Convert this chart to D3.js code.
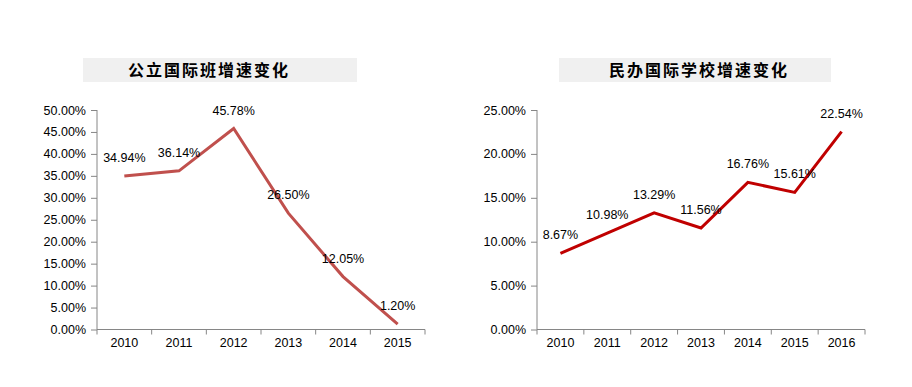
<!DOCTYPE html>
<html>
<head>
<meta charset="utf-8">
<script src="https://cdn.jsdelivr.net/npm/d3@7"></script>
<style>
  body { margin: 0; background: #fff; }
  svg { display: block; }
  .tick text { font-family: "Liberation Sans", Arial, sans-serif; font-size: 12.5px; fill: #000; }
  .lbl { font-family: "Liberation Sans", Arial, sans-serif; font-size: 12.5px; fill: #000; }
  .title { font-family: "Noto Sans CJK SC", sans-serif; font-size: 16px; font-weight: bold; fill: #000; letter-spacing: 2px; }
</style>
</head>
<body>
<div id="chart"></div>
<script>
// left chart: public school international classes
const yearsPublic = ['2010', '2011', '2012', '2013', '2014', '2015'];
const growthPublic = [34.94, 36.14, 45.78, 26.50, 12.05, 1.20];
const ticksPublic = [0, 5, 10, 15, 20, 25, 30, 35, 40, 45, 50];

// right chart: private international schools
const yearsPrivate = ['2010', '2011', '2012', '2013', '2014', '2015', '2016'];
const growthPrivate = [8.67, 10.98, 13.29, 11.56, 16.76, 15.61, 22.54];
const ticksPrivate = [0, 5, 10, 15, 20, 25];

const svg = d3.select('#chart')
  .append('svg')
  .attr('width', 912)
  .attr('height', 387);

/**
 * drawPanel - one titled line chart with percent axis
 */
function drawPanel(opts) {
  const {title, titleBox, titleX, years, values, ticks, yMax, x0, x1, top, bottom, color} = opts;

  svg.append('rect')
    .attr('x', titleBox[0])
    .attr('y', titleBox[1])
    .attr('width', titleBox[2])
    .attr('height', titleBox[3])
    .attr('fill', '#f0f0f0');

  svg.append('text')
    .attr('class', 'title')
    .attr('x', titleX)
    .attr('y', titleBox[1] + titleBox[3] / 2 + 6)
    .attr('text-anchor', 'middle')
    .text(title);

  const xScale = d3.scaleBand().domain(years).range([x0, x1]);
  const yScale = d3.scaleLinear().domain([0, yMax]).range([bottom, top]);

  const yAxis = d3.axisLeft(yScale)
    .tickValues(ticks)
    .tickSize(6)
    .tickPadding(5)
    .tickFormat(d => d.toFixed(2) + '%');

  const gy = svg.append('g')
    .attr('transform', 'translate(' + x0 + ',0)')
    .call(yAxis);

  // x axis ticks sit at the band edges, labels at the band centres
  const xAxis = d3.axisBottom(xScale).tickSize(0).tickPadding(9);
  const gx = svg.append('g')
    .attr('transform', 'translate(0,' + bottom + ')')
    .call(xAxis);
  gx.selectAll('.tick line').remove();
  gx.selectAll('.bound')
    .data(years.concat(['end']))
    .enter()
    .append('line')
    .attr('x1', (d, i) => x0 + i * xScale.step())
    .attr('x2', (d, i) => x0 + i * xScale.step())
    .attr('y1', 0)
    .attr('y2', 5)
    .attr('stroke', '#868686');

  [gx, gy].forEach(g => {
    g.select('.domain').attr('stroke', '#868686');
    g.selectAll('.tick line').attr('stroke', '#868686');
  });
  gx.select('.domain').attr('d', 'M' + x0 + ',0H' + x1);
  gy.select('.domain').attr('d', 'M0,' + top + 'V' + bottom);

  const pts = years.map((y, i) => ({year: y, v: values[i]}));

  const line = d3.line()
    .x(d => xScale(d.year) + xScale.bandwidth() / 2)
    .y(d => yScale(d.v));

  svg.append('path')
    .datum(pts)
    .attr('d', line)
    .attr('fill', 'none')
    .attr('stroke', color)
    .attr('stroke-width', 3);

  svg.selectAll(null)
    .data(pts)
    .enter()
    .append('text')
    .attr('class', 'lbl')
    .attr('x', d => xScale(d.year) + xScale.bandwidth() / 2)
    .attr('y', d => yScale(d.v) - 14)
    .attr('text-anchor', 'middle')
    .text(d => d.v.toFixed(2) + '%');
}

drawPanel({
  title: '公立国际班增速变化',
  titleBox: [83, 58, 274, 24],
  titleX: 209,
  years: yearsPublic,
  values: growthPublic,
  ticks: ticksPublic,
  yMax: 50,
  x0: 97, x1: 425, top: 110, bottom: 329.5,
  color: '#c0504d'
});

drawPanel({
  title: '民办国际学校增速变化',
  titleBox: [559, 58, 272, 24],
  titleX: 699,
  years: yearsPrivate,
  values: growthPrivate,
  ticks: ticksPrivate,
  yMax: 25,
  x0: 537, x1: 865, top: 110, bottom: 329.5,
  color: '#c00000'
});
</script>
</body>
</html>
